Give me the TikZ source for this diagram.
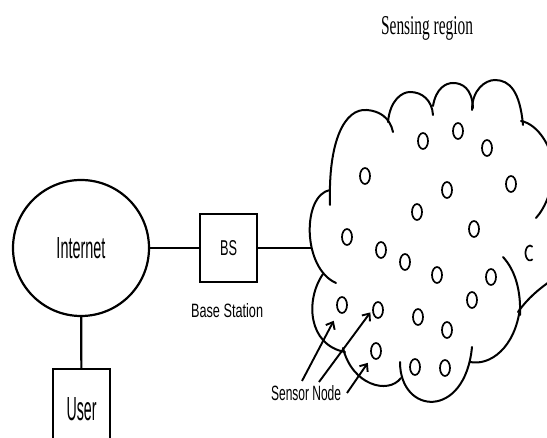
\documentclass[tikz,border=0pt]{standalone}
\usepackage{graphicx}
\usepackage{fontspec}
\setmainfont{Liberation Sans}
\newfontfamily\seriflab{Liberation Serif}
\usetikzlibrary{shapes.geometric,arrows.meta}
\begin{document}
\begin{tikzpicture}[x=1pt,y=-1pt,
  line width=2.2pt,
  box/.style={draw, rectangle, inner sep=0pt},
  sn/.style={draw, ellipse, minimum width=10pt, minimum height=16pt, inner sep=0pt, line width=1.7pt},
  cloudline/.style={line width=2pt, line cap=round},
  lbl/.style={inner sep=0pt, anchor=base west},
  arr/.style={line width=1.9pt, -{Straight Barb[length=6pt,width=10pt]}}
]
\useasboundingbox (0,0) rectangle (547,438);
\clip (0,0) rectangle (547,438);

% main nodes
\node[draw, circle, minimum size=136pt, inner sep=0pt] (inet) at (81,248) {\resizebox{49pt}{21pt}{Internet}};
\node[box, minimum width=57pt, minimum height=68pt] (bs) at (228.5,248) {\resizebox{17pt}{15pt}{BS}};
\node[box, minimum width=57pt, minimum height=80pt] (user) at (81.5,409) {\resizebox{30pt}{23pt}{User}};

% labels
\node[lbl] (bslbl) at (190,318) {\resizebox{72pt}{14pt}{Base Station}};
\node[lbl] (snlbl) at (270,401) {\resizebox{70pt}{15pt}{Sensor Node}};
\node[lbl] (srlbl) at (380,35) {\resizebox{92pt}{18pt}{\seriflab Sensing region}};

% cloud outline
\draw[cloudline] (330,190) .. controls (302,195) and (302,268) .. (336,283);
\draw[cloudline] (323,274) .. controls (305,300) and (308,345) .. (345,352);
\draw[cloudline] (343,348) .. controls (352,385) and (388,395) .. (401,378);
\draw[cloudline] (400,362) .. controls (400,415) and (465,420) .. (472,347);
\draw[cloudline] (470,362) .. controls (490,366) and (515,348) .. (520,308);
\draw[cloudline] (503,257) .. controls (515,270) and (521,290) .. (520,315);
\draw[cloudline] (518,312) .. controls (528,298) and (540,288) .. (552,280);
\draw[cloudline] (521,121) .. controls (538,124) and (553,148) .. (553,168) .. controls (553,190) and (545,208) .. (536,218);
\draw[cloudline] (472,110) .. controls (472,90) and (485,80) .. (495,80) .. controls (510,80) and (520,92) .. (523,125);
\draw[cloudline] (433,106) .. controls (436,88) and (446,83) .. (453,83) .. controls (462,83) and (472,88) .. (473,108);
\draw[cloudline] (388,122) .. controls (390,100) and (402,92) .. (410,92) .. controls (422,92) and (432,100) .. (433,115);
\draw[cloudline] (330,205) .. controls (328,140) and (345,108) .. (367,110) .. controls (380,111) and (390,118) .. (393,132);

\coordinate (cloudL) at (311,248);

% connectors
\draw (inet) -- (bs);
\draw (bs) -- (cloudL);
\draw (inet) -- (user);

% sensor nodes
\foreach \n/\x/\y in {1/423/141, 2/458/131, 3/487/148, 4/365/176, 5/447/190,
  6/511/184, 7/417/212, 8/474/229, 9/347/237, 10/381/250, 11/405/262,
  12/437/275, 13/491/277, 14/472/300, 15/342/305, 16/378/310, 17/418/317,
  18/447/330, 19/376/351, 20/415/367, 21/445/368}
  \node[sn] (s\n) at (\x,\y) {};
% partly hidden sensor at the right border
\draw[line width=1.7pt] (530,253) ++(55:4.5 and 7.5) arc[start angle=55, end angle=305, x radius=4.5, y radius=7.5];

% arrows from the label
\coordinate (ta) at (302,381);
\coordinate (tb) at (319,382);
\coordinate (tc) at (347,393);
\draw[arr, shorten >=10pt] (ta) -- (s15);
\draw[arr, shorten >=3pt] (tb) -- (s16.west);
\draw[arr, shorten >=7pt] (tc) -- (s19);
\end{tikzpicture}
\end{document}
